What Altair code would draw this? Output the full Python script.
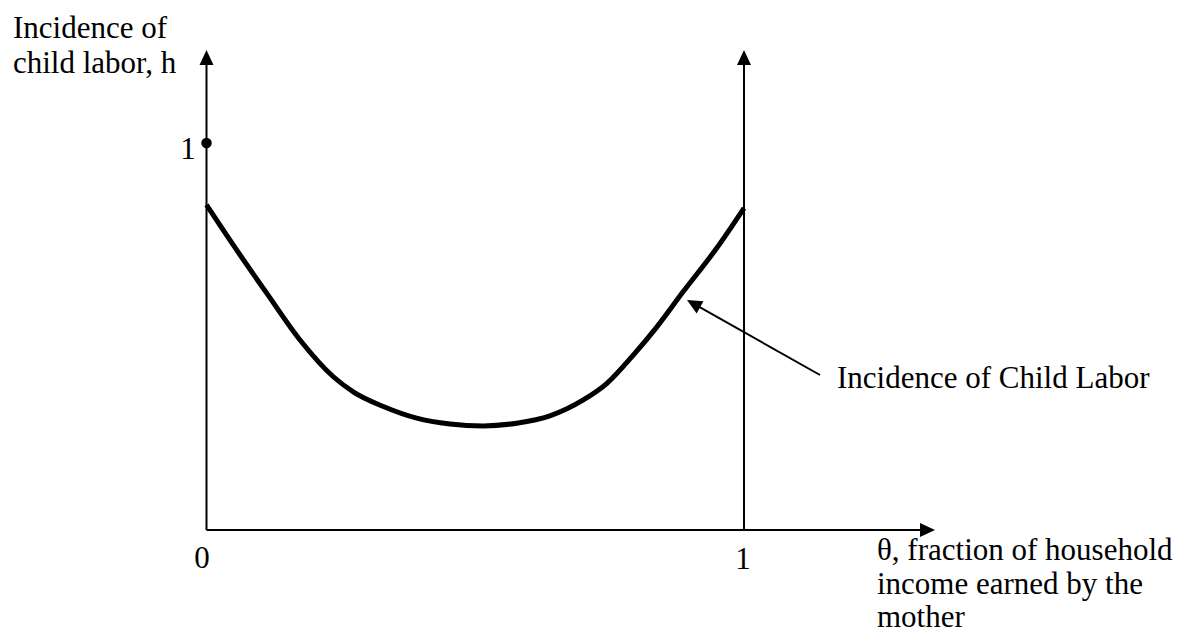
import math
import altair as alt
import pandas as pd

# ---- data ----
theta = [0.0, 0.050, 0.112, 0.174, 0.236, 0.273, 0.329, 0.391, 0.453, 0.515,
         0.577, 0.639, 0.701, 0.745, 0.794, 0.838, 0.887, 0.949, 1.0]
h = [0.840, 0.736, 0.612, 0.491, 0.396, 0.357, 0.319, 0.289, 0.274, 0.269,
     0.276, 0.295, 0.336, 0.379, 0.452, 0.525, 0.616, 0.728, 0.832]
x_tick_labels = ["0", "1"]
x_tick_values = [0, 1]
y_mark_value = 1
y_title_lines = ["Incidence of", "child labor, h"]
x_title_lines = ["\u03b8, fraction of household", "income earned by the", "mother"]
curve_label = "Incidence of Child Labor"

# ---- layout (page pixels) ----
W, H = 1175, 625
OFF = 8
X0_PX, X1_PX = 206.5, 744.0
Y0_PX, Y1_PX = 530.0, 143.0
SX = X1_PX - X0_PX
SY = Y0_PX - Y1_PX


def dx(px):
    return (px - X0_PX) / SX


def dy(py):
    return (Y0_PX - py) / SY


x_dom = [(0 - (X0_PX - OFF)) / SX, (W - (X0_PX - OFF)) / SX]
y_dom = [((Y0_PX - OFF) - H) / SY, (Y0_PX - OFF) / SY]

xs = alt.Scale(domain=x_dom, nice=False, zero=False)
ys = alt.Scale(domain=y_dom, nice=False, zero=False)

FONT = "Liberation Serif"
FS = 31

# curve
curve_df = pd.DataFrame({"theta": theta, "h": h})
curve = alt.Chart(curve_df).mark_line(
    color="black", strokeWidth=5, interpolate="monotone"
).encode(
    x=alt.X("theta:Q", scale=xs, axis=None),
    y=alt.Y("h:Q", scale=ys, axis=None),
)

# axes lines
top_tip = dy(50)
right_tip = dx(935)
axes_df = pd.DataFrame({
    "x": [0, 1, 0],
    "y": [0, 0, 0],
    "x2": [0, 1, dx(928)],
    "y2": [dy(58), dy(58), 0],
})
axes = alt.Chart(axes_df).mark_rule(color="black", strokeWidth=2).encode(
    x=alt.X("x:Q", scale=xs, axis=None),
    y=alt.Y("y:Q", scale=ys, axis=None),
    x2="x2:Q",
    y2="y2:Q",
)

# annotation arrow line
tail = (820, 375)
tip = (687, 300)
ann_df = pd.DataFrame({
    "x": [dx(tail[0])], "y": [dy(tail[1])],
    "x2": [dx(tip[0] + 6)], "y2": [dy(tip[1] + 3.4)],
})
ann_line = alt.Chart(ann_df).mark_rule(color="black", strokeWidth=2).encode(
    x=alt.X("x:Q", scale=xs, axis=None),
    y=alt.Y("y:Q", scale=ys, axis=None),
    x2="x2:Q",
    y2="y2:Q",
)

ann_angle = math.degrees(math.atan2(tip[1] - tail[1], tip[0] - tail[0])) % 360

heads_df = pd.DataFrame({
    "x": [0, 1, right_tip, dx(tip[0])],
    "y": [top_tip, top_tip, 0, dy(tip[1])],
    "ang": [270, 270, 0, ann_angle],
})
heads = alt.Chart(heads_df).mark_point(
    shape="M0,0L-2,-0.93L-2,0.93Z", filled=True, color="black",
    opacity=1, size=225, strokeWidth=0
).encode(
    x=alt.X("x:Q", scale=xs, axis=None),
    y=alt.Y("y:Q", scale=ys, axis=None),
    angle=alt.Angle("ang:Q", scale=None),
)

# dot at h = 1
dot_df = pd.DataFrame({"x": [0], "y": [y_mark_value]})
dot = alt.Chart(dot_df).mark_circle(color="black", opacity=1, size=110).encode(
    x=alt.X("x:Q", scale=xs, axis=None),
    y=alt.Y("y:Q", scale=ys, axis=None),
)

# centered labels (tick labels)
center_df = pd.DataFrame({
    "x": [dx(202), dx(743), dx(188)],
    "y": [dy(568), dy(569), dy(159)],
    "t": [x_tick_labels[0], x_tick_labels[1], str(y_mark_value)],
})
center_txt = alt.Chart(center_df).mark_text(
    font=FONT, fontSize=FS, color="black", align="center", baseline="alphabetic"
).encode(
    x=alt.X("x:Q", scale=xs, axis=None),
    y=alt.Y("y:Q", scale=ys, axis=None),
    text="t:N",
)

# left-aligned text blocks
left_df = pd.DataFrame({
    "x": [dx(13), dx(13), dx(837), dx(877), dx(877), dx(877)],
    "y": [dy(38), dy(73), dy(388), dy(560), dy(594), dy(627)],
    "t": y_title_lines + [curve_label] + x_title_lines,
})
left_txt = alt.Chart(left_df).mark_text(
    font=FONT, fontSize=FS, color="black", align="left", baseline="alphabetic"
).encode(
    x=alt.X("x:Q", scale=xs, axis=None),
    y=alt.Y("y:Q", scale=ys, axis=None),
    text="t:N",
)

chart = alt.layer(
    axes, ann_line, curve, heads, dot, center_txt, left_txt
).properties(
    width=W, height=H, padding=0,
    autosize=alt.AutoSizeParams(type="none"),
    background="white",
).configure_view(stroke=None)

chart.save("out.html", embed_options={"renderer": "svg", "actions": False})
